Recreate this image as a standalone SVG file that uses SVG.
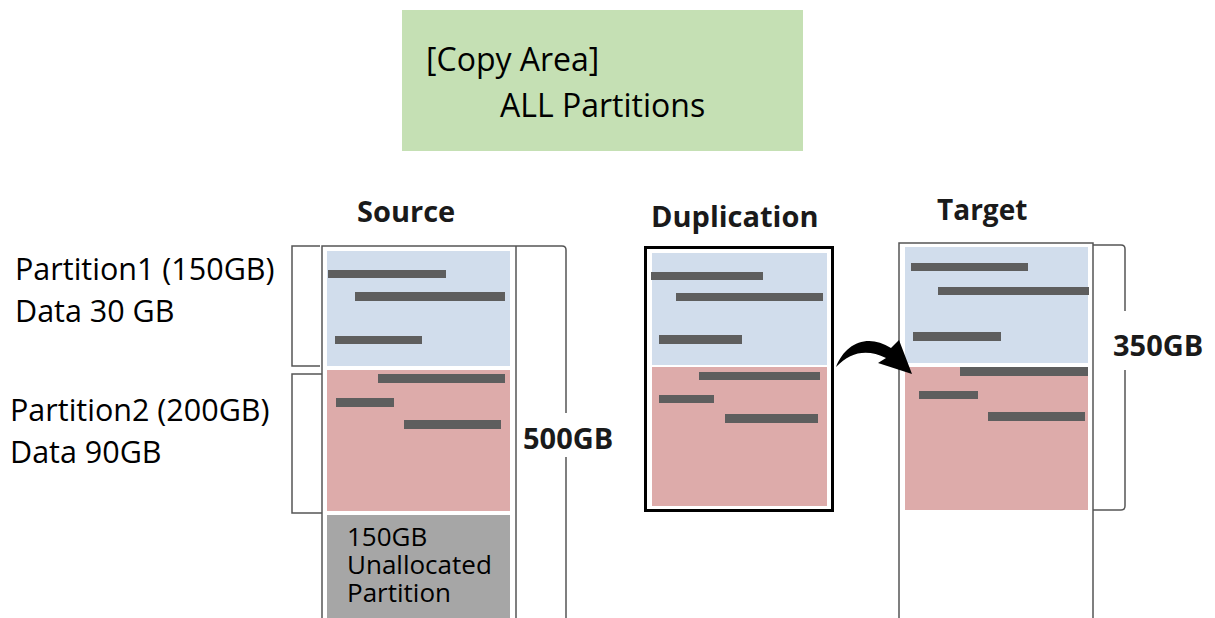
<svg xmlns="http://www.w3.org/2000/svg" width="1215" height="618" viewBox="0 0 1215 618">
<style>
  .t { font-family: "Open Sans", "Noto Sans", "DejaVu Sans", sans-serif; fill: #000; }
  .h { font-family: "Open Sans", "Noto Sans", "DejaVu Sans", sans-serif; font-weight: bold; fill: #1a1a1a; }
  .blue { fill: #d1ddec; }
  .red { fill: #ddabaa; }
  .bar { fill: #5e5e5e; }
  .ln { fill: none; stroke: #555; stroke-width: 1.5; }
</style>
<rect width="1215" height="618" fill="#fff"/>

<g id="copy-area">
  <rect x="402" y="10" width="401" height="141" fill="#c5e0b4"/>
  <text class="t" x="426" y="71" font-size="32">[Copy Area]</text>
  <text class="t" x="500" y="117" font-size="32">ALL Partitions</text>
</g>

<g id="labels">
  <text class="t" x="15" y="280" font-size="30.5">Partition1 (150GB)</text>
  <text class="t" x="15" y="322" font-size="30.5">Data 30 GB</text>
  <text class="t" x="10" y="421" font-size="30.5">Partition2 (200GB)</text>
  <text class="t" x="10" y="463" font-size="30.5">Data 90GB</text>
</g>

<g id="source">
  <text class="h" x="357" y="222" font-size="29">Source</text>
  <path class="ln" d="M322,618 V246 H562 Q566,246 566,250 V413 M566,457 V618 M516,246 V618"/>
  <path class="ln" d="M320,246 H292 V366 H320 M322,374 H292 V513 H322"/>
  <rect class="blue" x="327" y="251" width="183" height="115"/>
  <rect class="bar" x="328" y="270" width="118" height="8"/>
  <rect class="bar" x="355" y="292" width="150" height="9"/>
  <rect class="bar" x="335" y="336" width="87" height="8"/>
  <rect class="red" x="327" y="370" width="183" height="141"/>
  <rect class="bar" x="378" y="374" width="127" height="9"/>
  <rect class="bar" x="336" y="398" width="58" height="9"/>
  <rect class="bar" x="404" y="420" width="97" height="9"/>
  <rect x="327" y="515" width="183" height="103" fill="#a6a6a6"/>
  <text class="t" x="347" y="546" font-size="26">150GB</text>
  <text class="t" x="347" y="574" font-size="26">Unallocated</text>
  <text class="t" x="347" y="602" font-size="26">Partition</text>
  <text class="h" x="523" y="449" font-size="29">500GB</text>
</g>

<g id="duplication">
  <text class="h" x="651" y="227" font-size="29">Duplication</text>
  <rect x="645.5" y="247.5" width="187" height="263" fill="#fff" stroke="#000" stroke-width="3"/>
  <rect class="blue" x="652" y="253" width="175" height="112"/>
  <rect class="bar" x="651" y="272" width="112" height="8"/>
  <rect class="bar" x="676" y="293" width="147" height="8"/>
  <rect class="bar" x="659" y="335" width="83" height="9"/>
  <rect class="red" x="652" y="367" width="175" height="139"/>
  <rect class="bar" x="699" y="372" width="121" height="8"/>
  <rect class="bar" x="659" y="395" width="55" height="8"/>
  <rect class="bar" x="725" y="414" width="93" height="9"/>
</g>

<g id="target">
  <text class="h" x="937" y="220" font-size="28">Target</text>
  <path class="ln" d="M899,618 V243 H1093 V618"/>
  <path class="ln" d="M1093,245 H1121 Q1125,245 1125,249 V311 M1125,370 V506 Q1125,510 1121,510 H1093"/>
  <rect class="blue" x="905" y="247" width="183" height="116"/>
  <rect class="bar" x="911" y="263" width="117" height="8"/>
  <rect class="bar" x="938" y="287" width="151" height="8"/>
  <rect class="bar" x="913" y="332" width="88" height="9"/>
  <rect class="red" x="905" y="367" width="183" height="143"/>
  <rect class="bar" x="960" y="367" width="128" height="9"/>
  <rect class="bar" x="919" y="391" width="59" height="8"/>
  <rect class="bar" x="988" y="412" width="97" height="9"/>
  <text class="h" x="1113" y="356" font-size="29">350GB</text>
</g>

<g id="connectors">
  <path d="M836,367 C845,343 868,333 891,348 L899,340 L912,374 L878,363 L886,358 C868,349 851,351 836,367 Z" fill="#000"/>
</g>
</svg>
